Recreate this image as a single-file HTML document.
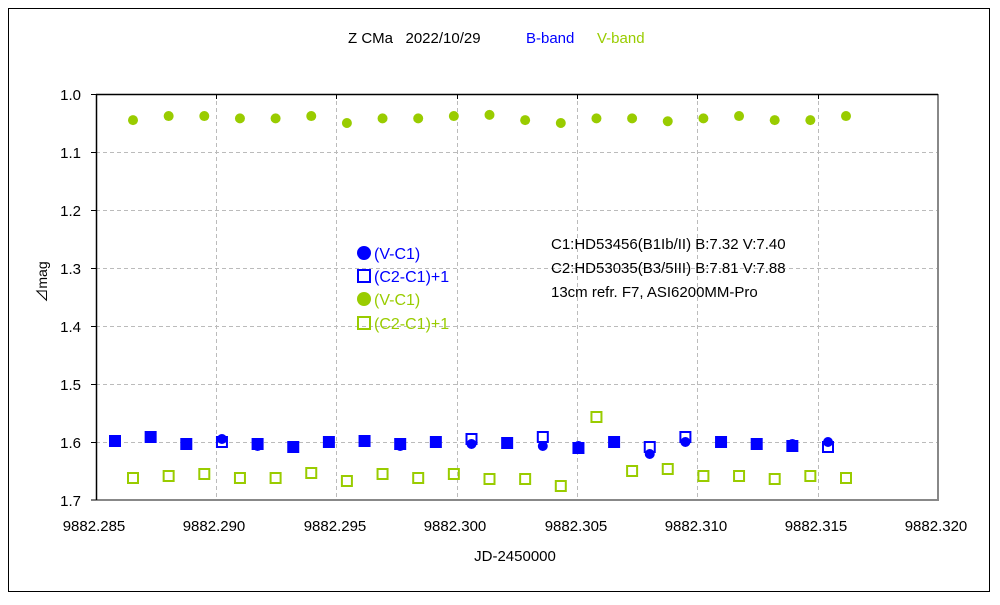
<!DOCTYPE html>
<html><head><meta charset="utf-8"><style>body{margin:0;background:#fff}</style></head><body>
<svg width="1000" height="600" xmlns="http://www.w3.org/2000/svg" font-family="Liberation Sans, Noto Sans CJK JP, sans-serif">
<rect x="0" y="0" width="1000" height="600" fill="#fff"/>
<rect x="8.5" y="8.5" width="981" height="583" fill="none" stroke="#000" stroke-width="1"/>
<text x="348" y="43" font-size="15" fill="#000">Z CMa&#160;&#160;&#160;2022/10/29</text>
<text x="526" y="43" font-size="15" fill="#0000ff">B-band</text>
<text x="597" y="43" font-size="15" fill="#99cc00">V-band</text>
<g stroke="#bbb" stroke-dasharray="4,3" stroke-width="1">
<line x1="96" y1="152.5" x2="938" y2="152.5"/><line x1="96" y1="210.5" x2="938" y2="210.5"/>
<line x1="96" y1="268.5" x2="938" y2="268.5"/><line x1="96" y1="326.5" x2="938" y2="326.5"/>
<line x1="96" y1="384.5" x2="938" y2="384.5"/><line x1="96" y1="442.5" x2="938" y2="442.5"/>
<line x1="216.5" y1="94" x2="216.5" y2="500"/><line x1="336.5" y1="94" x2="336.5" y2="500"/>
<line x1="457.5" y1="94" x2="457.5" y2="500"/><line x1="577.5" y1="94" x2="577.5" y2="500"/>
<line x1="697.5" y1="94" x2="697.5" y2="500"/><line x1="818.5" y1="94" x2="818.5" y2="500"/>
</g>
<line x1="938" y1="94" x2="938" y2="501" stroke="#888" stroke-width="2"/>
<line x1="96" y1="500" x2="939" y2="500" stroke="#888" stroke-width="2"/>
<line x1="96" y1="94.5" x2="938" y2="94.5" stroke="#000" stroke-width="1.5"/>
<line x1="96.5" y1="94" x2="96.5" y2="500" stroke="#000" stroke-width="1.5"/>
<g stroke="#000"><line x1="91" y1="94.5" x2="96" y2="94.5"/><line x1="91" y1="152.5" x2="96" y2="152.5"/><line x1="91" y1="210.5" x2="96" y2="210.5"/><line x1="91" y1="268.5" x2="96" y2="268.5"/><line x1="91" y1="326.5" x2="96" y2="326.5"/><line x1="91" y1="384.5" x2="96" y2="384.5"/><line x1="91" y1="442.5" x2="96" y2="442.5"/><line x1="91" y1="500" x2="96" y2="500"/>
<line x1="216.5" y1="94" x2="216.5" y2="99"/><line x1="336.5" y1="94" x2="336.5" y2="99"/><line x1="457.5" y1="94" x2="457.5" y2="99"/><line x1="577.5" y1="94" x2="577.5" y2="99"/><line x1="697.5" y1="94" x2="697.5" y2="99"/><line x1="818.5" y1="94" x2="818.5" y2="99"/></g>
<g font-size="15" text-anchor="end" fill="#000">
<text x="81" y="100">1.0</text><text x="81" y="158">1.1</text><text x="81" y="216">1.2</text><text x="81" y="274">1.3</text><text x="81" y="332">1.4</text><text x="81" y="390">1.5</text><text x="81" y="448">1.6</text><text x="81" y="506">1.7</text></g>
<g font-size="15" text-anchor="middle" fill="#000">
<text x="94" y="531">9882.285</text><text x="214" y="531">9882.290</text><text x="335" y="531">9882.295</text><text x="455" y="531">9882.300</text><text x="576" y="531">9882.305</text><text x="696" y="531">9882.310</text><text x="816" y="531">9882.315</text><text x="936" y="531">9882.320</text>
<text x="515" y="561">JD-2450000</text></g>
<text transform="translate(47,282) rotate(-90)" font-size="14" text-anchor="middle">⊿mag</text>
<g id="pts"></g>
<g font-size="15" fill="#000">
<text x="551" y="249">C1:HD53456(B1Ib/II)  B:7.32  V:7.40</text>
<text x="551" y="273">C2:HD53035(B3/5III)  B:7.81  V:7.88</text>
<text x="551" y="297">13cm refr. F7,  ASI6200MM-Pro</text></g>
<circle cx="364" cy="253" r="7" fill="#0000ff"/><text x="374" y="259" font-size="16" fill="#0000ff">(V-C1)</text>
<rect x="358" y="270" width="12" height="12" fill="none" stroke="#0000ff" stroke-width="2"/><text x="374" y="282" font-size="16" fill="#0000ff">(C2-C1)+1</text>
<circle cx="364" cy="299" r="7" fill="#99cc00"/><text x="374" y="305" font-size="16" fill="#99cc00">(V-C1)</text>
<rect x="358" y="317" width="12" height="12" fill="none" stroke="#99cc00" stroke-width="2"/><text x="374" y="329" font-size="16" fill="#99cc00">(C2-C1)+1</text>
</svg>
<script>
var g=document.getElementById('pts'),s='';
var gv=[1.045,1.038,1.038,1.042,1.042,1.038,1.05,1.042,1.042,1.038,1.036,1.045,1.05,1.042,1.042,1.047,1.042,1.038,1.045,1.045,1.038];
var gs=[478,476,474,478,478,473,481,474,478,474,479,479,486,417,471,469,476,476,479,476,478];
var bc=[440,437,444,439,446,447,442,441,446,442,444,443,446,446,441,454,442,443,444,444,442];
var bs=[441,437,444,442,444,447,442,441,444,442,439,443,437,448,442,447,437,442,444,446,447];
for(var i=0;i<21;i++){var xg=133+i*35.65,xb=115+i*35.65;
s+='<circle cx="'+xg+'" cy="'+(94+(gv[i]-1)*580)+'" r="5" fill="#99cc00"/>';
s+='<rect x="'+(xg-5)+'" y="'+(gs[i]-5)+'" width="10" height="10" fill="none" stroke="#99cc00" stroke-width="2"/>';
s+='<circle cx="'+xb+'" cy="'+bc[i]+'" r="5" fill="#0000ff"/>';
var f=Math.abs(bc[i]-bs[i])<=2?'#0000ff':'none';
s+='<rect x="'+(xb-5)+'" y="'+(bs[i]-5)+'" width="10" height="10" fill="'+f+'" stroke="#0000ff" stroke-width="2"/>';}
g.innerHTML=s;
</script>
</body></html>
